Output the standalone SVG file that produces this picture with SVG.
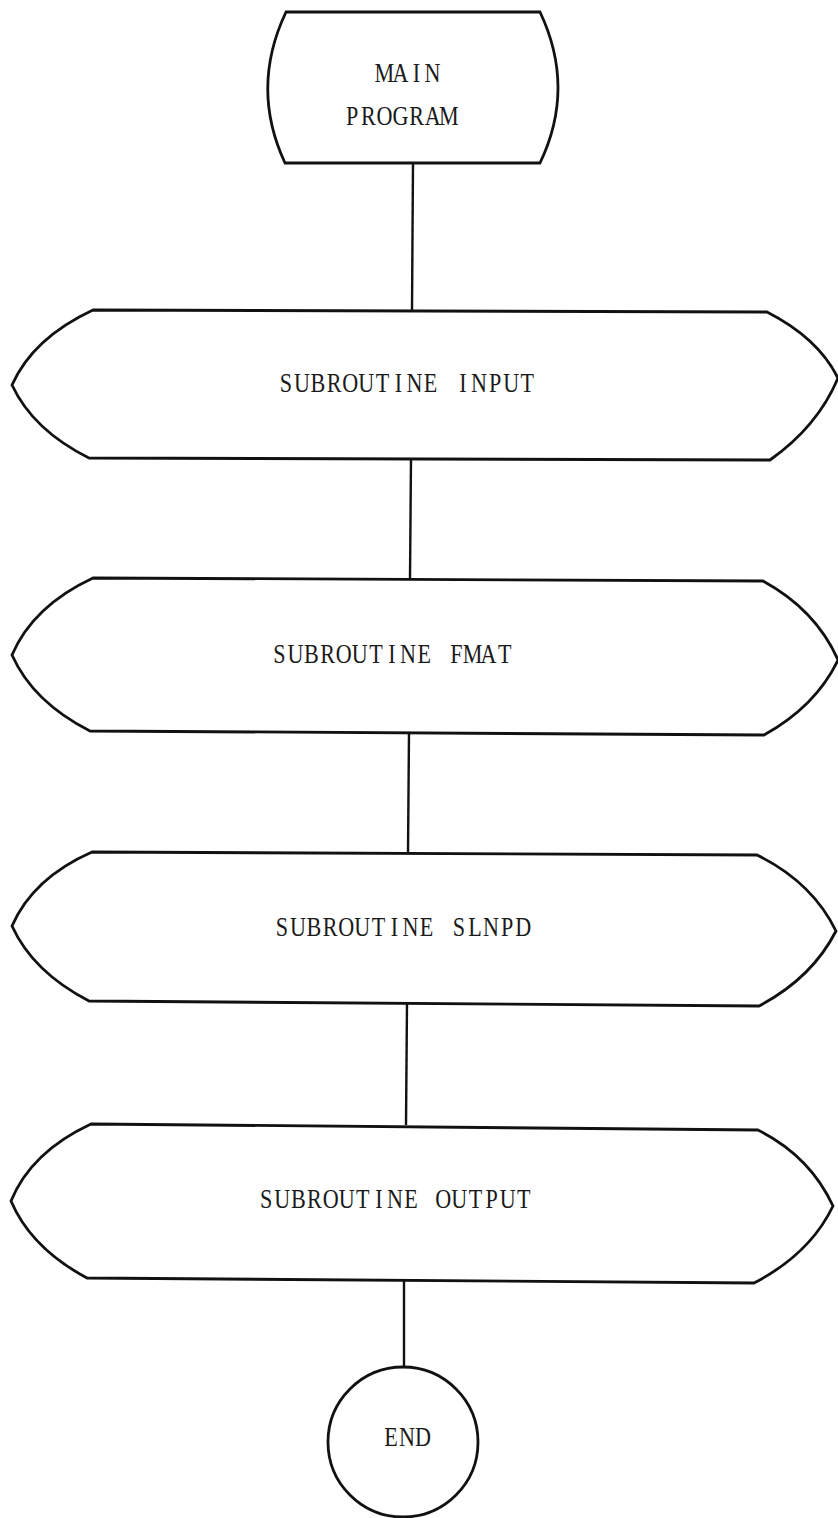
<svg xmlns="http://www.w3.org/2000/svg" width="838" height="1518" viewBox="0 0 838 1518">
<style>
.s{fill:#fff;stroke:#111;stroke-width:2.8;stroke-linejoin:miter}
.c{fill:none;stroke:#111;stroke-width:2.4}
.t{font-family:"Liberation Serif","Times New Roman",serif;font-size:27px;fill:#1a1a1a;text-anchor:middle}
</style>
<rect width="838" height="1518" fill="#fff"/>
<g id="connectors">
<line class="c" x1="413" y1="163" x2="412" y2="311"/>
<line class="c" x1="411" y1="458" x2="410" y2="579"/>
<line class="c" x1="409" y1="732" x2="408" y2="853"/>
<line class="c" x1="407" y1="1003" x2="406" y2="1125"/>
<line class="c" x1="404" y1="1280" x2="404" y2="1367"/>
</g>
<g id="main">
<path class="s" d="M286,12 L540,12 Q576,88 540,163 L285,163 Q250,88 286,12 Z"/>
<text class="t" transform="translate(408.5 0) scale(0.82 1)" x="-29.4 -9.8 9.8 29.4" y="82">MAIN</text>
<text class="t" transform="translate(400.5 0) scale(0.82 1)" x="-58.9 -39.3 -19.6 0 19.6 39.3 58.9" y="125">PROGRAM</text>
</g>
<g id="input">
<path class="s" d="M93,310 L767,312 Q818,338 838,378 Q818,426 770,460 L89,458 Q33,430 12,385 Q33,338 93,310 Z"/>
<text class="t" transform="translate(406.5 0) scale(0.82 1)" x="-147.2 -127.6 -108 -88.3 -68.7 -49.1 -29.4 -9.8 9.8 29.4 49.1 68.7 88.3 108 127.6 147.2" y="392">SUBROUTINE INPUT</text>
</g>
<g id="fmat">
<path class="s" d="M93,578 L763,581 Q816,610 838,660 Q816,706 764,735 L90,731 Q33,702 12,655 Q33,606 93,578 Z"/>
<text class="t" transform="translate(392 0) scale(0.82 1)" x="-137.4 -117.8 -98.2 -78.5 -58.9 -39.3 -19.6 0 19.6 39.3 58.9 78.5 98.2 117.8 137.4" y="663">SUBROUTINE FMAT</text>
</g>
<g id="slnpd">
<path class="s" d="M92,852 L757,855 Q812,882 836,931 Q812,978 759,1006 L89,1001 Q33,972 12,926 Q33,878 92,852 Z"/>
<text class="t" transform="translate(402.5 0) scale(0.82 1)" x="-147.2 -127.6 -108 -88.3 -68.7 -49.1 -29.4 -9.8 9.8 29.4 49.1 68.7 88.3 108 127.6 147.2" y="936">SUBROUTINE SLNPD</text>
</g>
<g id="output">
<path class="s" d="M91,1124 L758,1130 Q810,1156 833,1206 Q810,1254 754,1283 L87,1278 Q31,1248 11,1201 Q31,1152 91,1124 Z"/>
<text class="t" transform="translate(395 0) scale(0.82 1)" x="-157 -137.4 -117.8 -98.2 -78.5 -58.9 -39.3 -19.6 0 19.6 39.3 58.9 78.5 98.2 117.8 137.4 157" y="1208">SUBROUTINE OUTPUT</text>
</g>
<g id="end">
<circle class="s" cx="403" cy="1442" r="75"/>
<text class="t" transform="translate(407 0) scale(0.82 1)" x="-19.6 0 19.6" y="1446">END</text>
</g>
</svg>
